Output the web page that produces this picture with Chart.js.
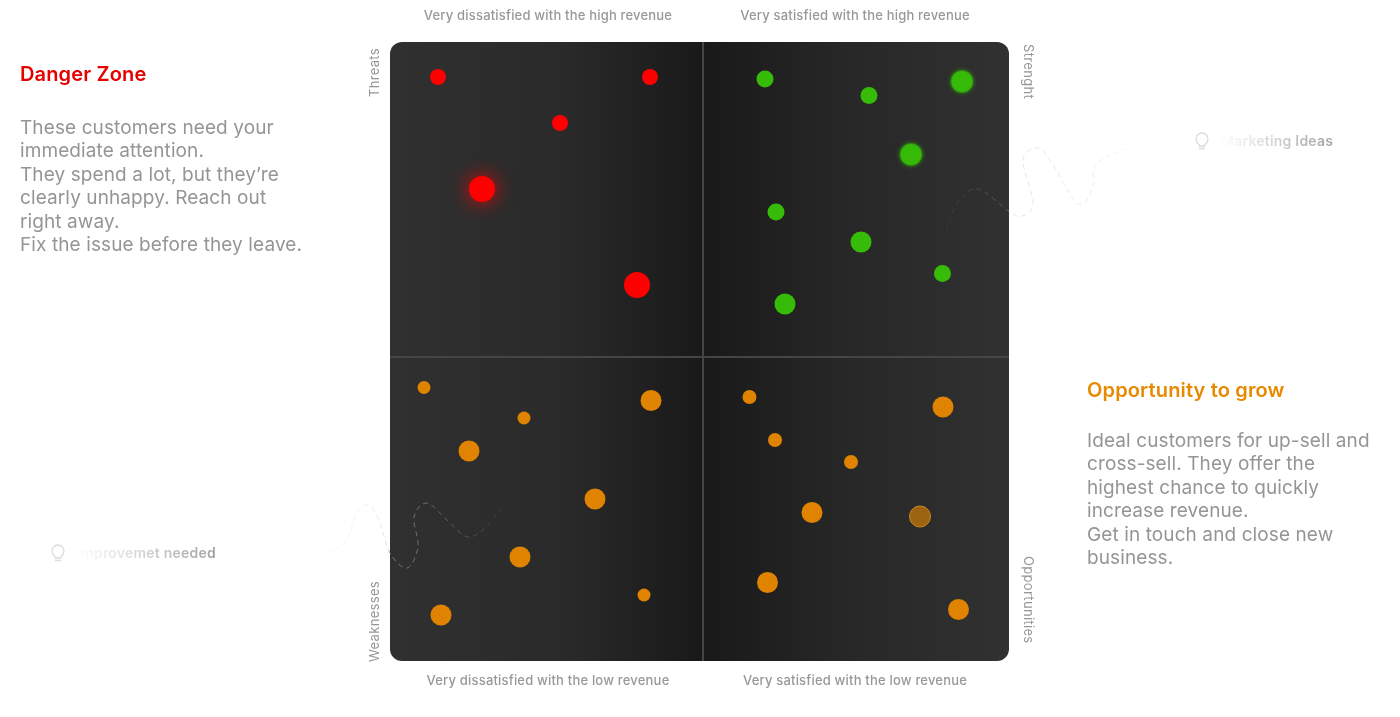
<!DOCTYPE html>
<html><head><meta charset="utf-8">
<script src="https://cdn.jsdelivr.net/npm/chart.js@4"></script>
<style>
html,body{margin:0;padding:0;background:#fff;width:1400px;height:717px;overflow:hidden;font-family:Inter,"Noto Sans",sans-serif}
#wrap{position:relative;width:1400px;height:717px}
canvas{position:absolute;left:0;top:0}
svg{position:absolute;left:0;top:0;pointer-events:none}
.t{position:absolute;white-space:nowrap}
.cap{font-size:13px;font-weight:500;color:#989898;line-height:16px;letter-spacing:.19px;transform:translateX(-50%)}
.side{font-size:13px;font-weight:400;color:#969696;line-height:16px;letter-spacing:.32px}
.up{writing-mode:vertical-rl;transform:rotate(180deg)}
.down{writing-mode:vertical-rl}
.head{font-size:20px;font-weight:600;line-height:24px;letter-spacing:.15px}
.body{font-size:19px;line-height:23.4px;color:#959595;white-space:pre;letter-spacing:.1px}
.hint{font-size:14px;font-weight:600;line-height:18px;letter-spacing:.22px;color:transparent;-webkit-background-clip:text;background-clip:text}
</style></head><body>
<div id="wrap">
<canvas id="c" width="1400" height="717"></canvas>
<svg id="deco" width="1400" height="717" xmlns="http://www.w3.org/2000/svg">
<defs>
<linearGradient id="gl" gradientUnits="userSpaceOnUse" x1="300" y1="0" x2="505" y2="0">
<stop offset="0" stop-color="#fff"/><stop offset=".38" stop-color="#ebebeb"/><stop offset=".43" stop-color="#dcdcdc"/><stop offset=".44" stop-color="#7a7a7a"/><stop offset=".65" stop-color="#6a6a6a"/><stop offset="1" stop-color="#383838"/>
</linearGradient>
<linearGradient id="gr" gradientUnits="userSpaceOnUse" x1="946" y1="0" x2="1150" y2="0">
<stop offset="0" stop-color="#383838"/><stop offset=".305" stop-color="#5c5c5c"/><stop offset=".31" stop-color="#e4e4e4"/><stop offset=".7" stop-color="#ececec"/><stop offset="1" stop-color="#fdfdfd"/>
</linearGradient>
</defs>
<path id="pl" fill="none" stroke="url(#gl)" stroke-width="1" stroke-dasharray="5 4"/>
<path id="pr" fill="none" stroke="url(#gr)" stroke-width="1" stroke-dasharray="5 4"/>
<g fill="none" stroke="#dcdcdc" stroke-width="1.300">
<path d="M55 560.500h6M55.500 558c0-2-3.500-3-3.500-7a6 6 0 0 1 12 0c0 4-3.500 5-3.500 7z"/>
<path d="M1199 148.500h6M1199.500 146c0-2-3.500-3-3.500-7a6 6 0 0 1 12 0c0 4-3.500 5-3.500 7z"/>
</g>
</svg>

<div class="t cap" style="left:548px;top:6.500px">Very dissatisfied with the high revenue</div>
<div class="t cap" style="left:855px;top:6.500px">Very satisfied with the high revenue</div>
<div class="t cap" style="left:548px;top:672px">Very dissatisfied with the low revenue</div>
<div class="t cap" style="left:855px;top:672px">Very satisfied with the low revenue</div>
<div class="t side up" style="left:366px;top:48px">Threats</div>
<div class="t side up" style="left:366px;top:581px">Weaknesses</div>
<div class="t side down" style="left:1021px;top:44px">Strenght</div>
<div class="t side down" style="left:1021px;top:556px">Opportunities</div>

<div class="t head" style="left:20px;top:61.500px;color:#e60000">Danger Zone</div>
<div class="t body" style="left:20px;top:116px">These customers need your
immediate attention.
They spend a lot, but they’re
clearly unhappy. Reach out
right away.
Fix the issue before they leave.</div>
<div class="t head" style="left:1087px;top:377.500px;color:#e88a00">Opportunity to grow</div>
<div class="t body" style="left:1087px;top:429px">Ideal customers for up-sell and
cross-sell. They offer the
highest chance to quickly
increase revenue.
Get in touch and close new
business.</div>
<div class="t hint" style="left:77px;top:544px;background-image:linear-gradient(90deg,#fff 0%,#e4e4e4 30%,#a0a0a0 100%)">Improvemet needed</div>
<div class="t hint" style="left:1221px;top:132px;background-image:linear-gradient(90deg,#fff 0%,#e4e4e4 30%,#a0a0a0 100%)">Marketing Ideas</div>
</div>
<script>
// Axis scales: position on the satisfaction axis and the revenue axis, 0-619 wide
const axisMax = 619;
const dividerX = 313;
const dividerY = 304;

const redX = [48, 260, 170, 247];
const redY = [584, 584, 538, 376];
const redR = [8, 8, 8, 13];
const redGlowX = [92];
const redGlowY = [472];
const redGlowR = [13];

const greenX = [375, 479, 386, 471, 552.5, 395];
const greenY = [582, 565.5, 449, 419, 387.5, 357];
const greenR = [8.5, 8.5, 8.5, 10.5, 8.5, 10.5];
const greenGlowX = [572, 521];
const greenGlowY = [579.5, 506.5];
const greenGlowR = [10.5, 10.5];

const orangeX = [34, 134, 261, 79, 205, 130, 254, 51, 359.5, 385, 461, 553, 422, 377.5, 568.5];
const orangeY = [273.5, 243, 260.5, 210, 162, 104, 66, 46, 264, 221, 199, 254, 148.5, 78.5, 51.5];
const orangeR = [6.5, 6.5, 10.5, 10.5, 10.5, 10.5, 6.5, 10.5, 7, 7, 7, 10.5, 10.5, 10.5, 10.5];
const mutedX = [530];
const mutedY = [144.5];
const mutedR = [10.5];

const toPts = (x, y, r) => x.map((v, i) => ({x: v, y: y[i], r: r[i]}));

const panel = {
  id: 'panel',
  beforeDraw(chart) {
    const {ctx, chartArea: a, scales} = chart;
    const mid = scales.x.getPixelForValue(dividerX);
    const g = ctx.createLinearGradient(a.left, 0, a.right, 0);
    const m = (mid - a.left) / (a.right - a.left);
    g.addColorStop(0, '#303030');
    g.addColorStop(m * 0.55, '#2a2a2a');
    g.addColorStop(m, '#191919');
    g.addColorStop(m + (1 - m) * 0.45, '#272727');
    g.addColorStop(1, '#313131');
    ctx.save();
    ctx.beginPath();
    ctx.roundRect(a.left, a.top, a.right - a.left, a.bottom - a.top, 12);
    ctx.fillStyle = g;
    ctx.fill();
    ctx.restore();
  }
};
const glow = {
  id: 'glow',
  beforeDatasetDraw(chart, args) {
    const ds = chart.data.datasets[args.index];
    chart.ctx.save();
    if (ds.glowColor) { chart.ctx.shadowColor = ds.glowColor; chart.ctx.shadowBlur = ds.glowBlur; }
  },
  afterDatasetDraw(chart) { chart.ctx.restore(); }
};

new Chart(document.getElementById('c'), {
  type: 'bubble',
  plugins: [panel, glow],
  data: {datasets: [
    {label: 'Danger', data: toPts(redX, redY, redR), backgroundColor: '#ff0000', borderWidth: 0},
    {label: 'Danger focus', data: toPts(redGlowX, redGlowY, redGlowR), backgroundColor: '#ff0000', borderWidth: 0, glowColor: 'rgba(255,0,0,.9)', glowBlur: 20},
    {label: 'Strength', data: toPts(greenX, greenY, greenR), backgroundColor: '#37bb09', borderWidth: 0},
    {label: 'Strength focus', data: toPts(greenGlowX, greenGlowY, greenGlowR), backgroundColor: '#37bb09', borderColor: 'rgba(55,187,9,.45)', borderWidth: 2, glowColor: 'rgba(55,187,9,.7)', glowBlur: 5},
    {label: 'Grow', data: toPts(orangeX, orangeY, orangeR), backgroundColor: '#e08300', borderWidth: 0},
    {label: 'Grow muted', data: toPts(mutedX, mutedY, mutedR), backgroundColor: '#9c6310', borderColor: '#d08a20', borderWidth: 1}
  ]},
  options: {
    responsive: false,
    animation: false,
    events: [],
    layout: {padding: {left: 390, right: 391, top: 42, bottom: 56}},
    plugins: {legend: {display: false}, tooltip: {enabled: false}},
    scales: {
      x: {type: 'linear', min: 0, max: axisMax, ticks: {display: false},
          afterBuildTicks(s) { s.ticks = [{value: dividerX}]; },
          border: {display: false}, grid: {color: '#454545', lineWidth: 2, drawTicks: false}},
      y: {type: 'linear', min: 0, max: axisMax, ticks: {display: false},
          afterBuildTicks(s) { s.ticks = [{value: dividerY}]; },
          border: {display: false}, grid: {color: '#454545', lineWidth: 2, drawTicks: false}}
    }
  }
});

// Decorative dashed doodles beside the hints
function smooth(p) {
  let d = 'M' + p[0] + ' ' + p[1];
  const n = p.length / 2;
  const P = i => { i = Math.max(0, Math.min(n - 1, i)); return [p[2 * i], p[2 * i + 1]]; };
  for (let i = 0; i < n - 1; i++) {
    const a = P(i - 1), b = P(i), c = P(i + 1), e = P(i + 2);
    d += ' C' + (b[0] + (c[0] - a[0]) / 6) + ' ' + (b[1] + (c[1] - a[1]) / 6) + ' ' +
         (c[0] - (e[0] - b[0]) / 6) + ' ' + (c[1] - (e[1] - b[1]) / 6) + ' ' + c[0] + ' ' + c[1];
  }
  return d;
}
document.getElementById('pl').setAttribute('d', smooth([300,556, 335,549, 348,538, 356,514, 367,505, 378,518, 390,553, 407,568, 418,547, 414,517, 427,503, 447,520, 468,537, 488,525, 505,502]));
document.getElementById('pr').setAttribute('d', smooth([946,230, 958,202, 978,189, 1010,212, 1022,216, 1033,203, 1023,160, 1037,148, 1050,160, 1078,204, 1093,187, 1097,163, 1140,144]));
</script>
</body></html>
